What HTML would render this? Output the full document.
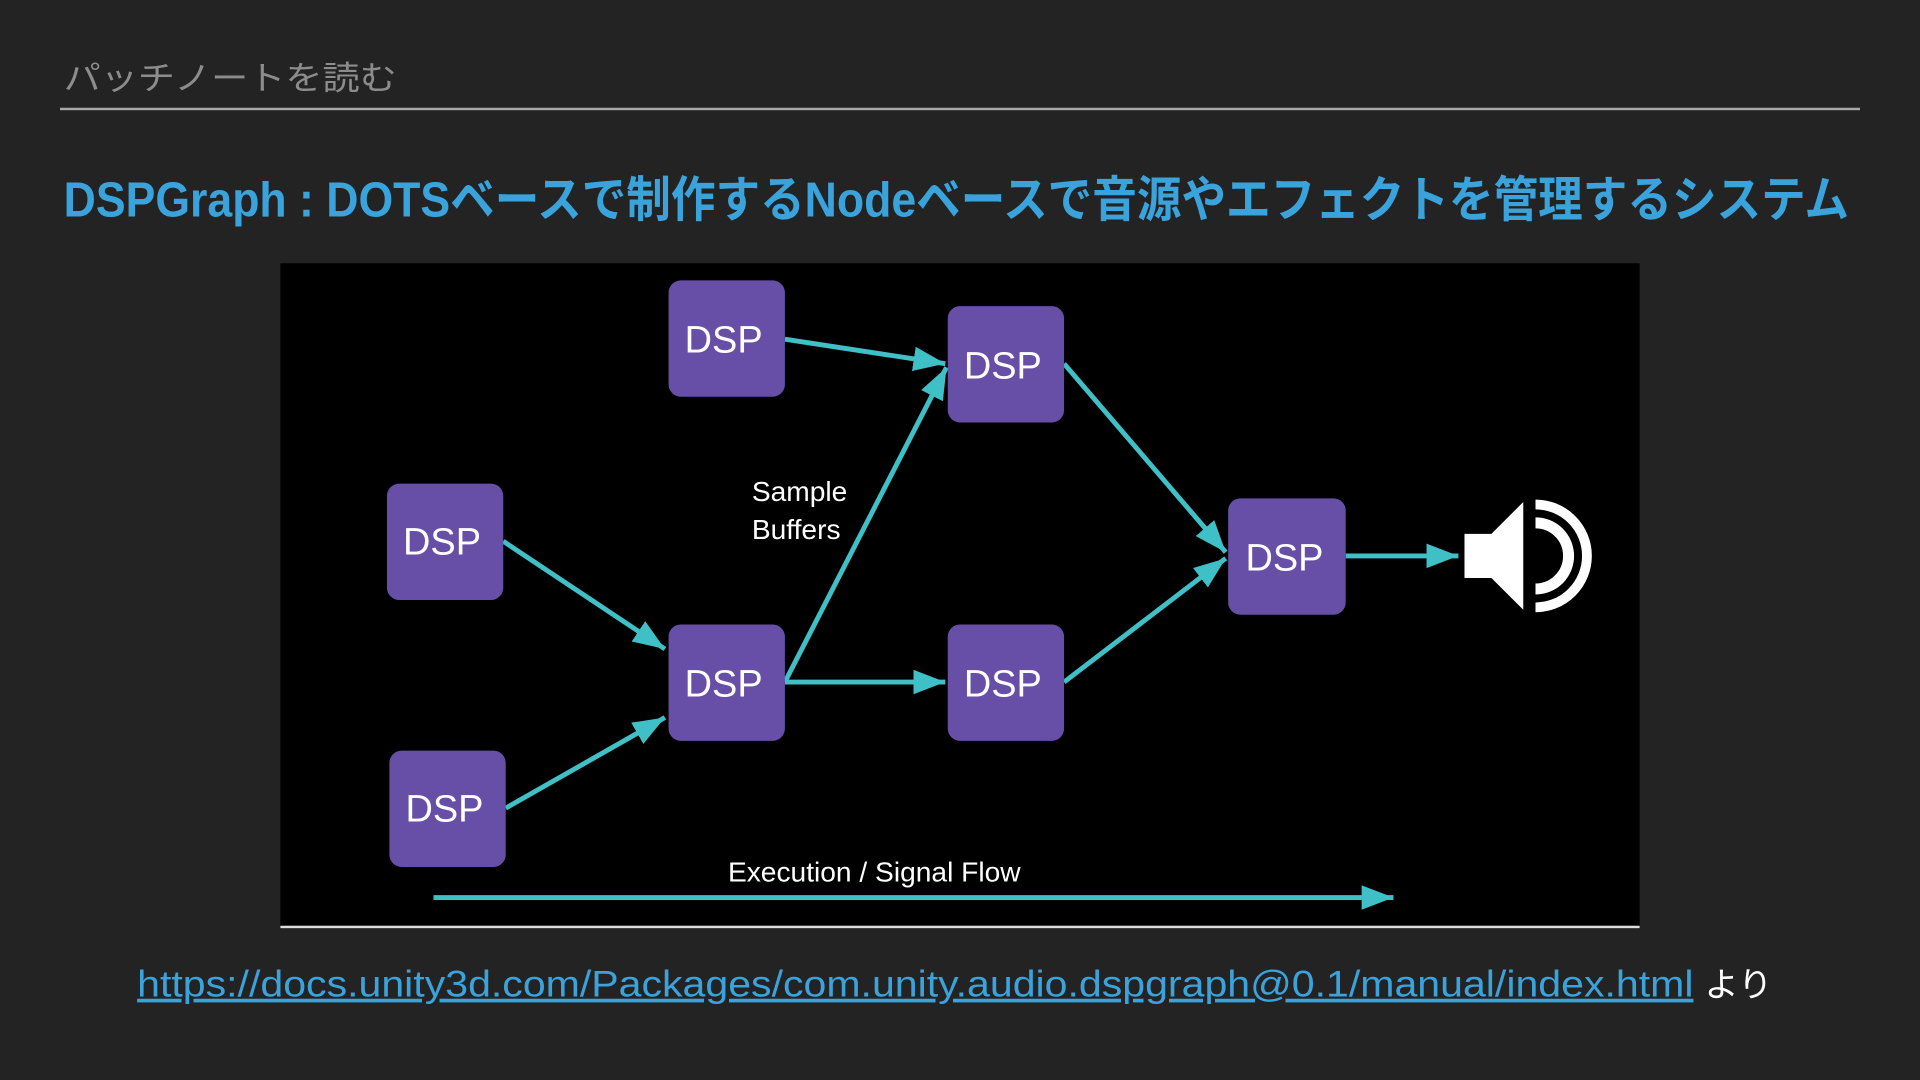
<!DOCTYPE html>
<html><head><meta charset="utf-8"><style>
html,body{margin:0;padding:0;background:#232323;width:1920px;height:1080px;overflow:hidden}
svg{display:block}
</style></head><body>
<svg width="1920" height="1080" viewBox="0 0 1568 882" xmlns="http://www.w3.org/2000/svg">
<defs>
<marker id="a" viewBox="0 0 10 10" refX="10" refY="5" markerWidth="26" markerHeight="20" orient="auto" markerUnits="userSpaceOnUse" preserveAspectRatio="none"><path d="M0,0 L10,5 L0,10 z" fill="#3fbfc6"/></marker>
</defs>
<rect width="1568" height="882" fill="#232323"/>
<text x="52" y="73" font-family="Liberation Sans, Noto Sans CJK JP, sans-serif" font-size="27" fill="#8c8c8c" textLength="272" lengthAdjust="spacingAndGlyphs">パッチノートを読む</text>
<rect x="49" y="88" width="1470" height="2" fill="#a8a8a8"/>
<text x="52" y="177" font-family="Liberation Sans Narrow, Liberation Sans, Noto Sans CJK JP, sans-serif" font-weight="bold" font-size="40" fill="#3aa3dc" textLength="1458" lengthAdjust="spacingAndGlyphs">DSPGraph : DOTSベースで制作するNodeベースで音源やエフェクトを管理するシステム</text>
<rect x="229" y="215" width="1110" height="542" fill="#000"/>
<rect x="229" y="756" width="1110" height="2" fill="#ddd"/>
<g stroke="#3fbfc6" stroke-width="4" fill="none" marker-end="url(#a)">
<line x1="641" y1="277" x2="772" y2="297"/>
<line x1="641" y1="557" x2="773" y2="300"/>
<line x1="411" y1="442" x2="543" y2="530"/>
<line x1="413" y1="660" x2="543" y2="586"/>
<line x1="641" y1="557" x2="772" y2="557"/>
<line x1="869" y1="297" x2="1001" y2="451"/>
<line x1="869" y1="557" x2="1001" y2="456"/>
<line x1="1099" y1="454" x2="1191" y2="454"/>
<line x1="354" y1="733" x2="1138" y2="733"/>
</g>
<g fill="#674ea7">
<rect x="546" y="229" width="95" height="95" rx="10"/>
<rect x="774" y="250" width="95" height="95" rx="10"/>
<rect x="316" y="395" width="95" height="95" rx="10"/>
<rect x="546" y="510" width="95" height="95" rx="10"/>
<rect x="774" y="510" width="95" height="95" rx="10"/>
<rect x="318" y="613" width="95" height="95" rx="10"/>
<rect x="1003" y="407" width="96" height="95" rx="10"/>
</g>
<g font-family="Liberation Sans, sans-serif" font-size="31" fill="#fff" text-anchor="middle">
<text x="591" y="288">DSP</text>
<text x="819" y="309">DSP</text>
<text x="361" y="453">DSP</text>
<text x="591" y="569">DSP</text>
<text x="819" y="569">DSP</text>
<text x="363" y="671">DSP</text>
<text x="1049" y="466">DSP</text>
</g>
<g font-family="Liberation Sans, sans-serif" font-size="23" fill="#fff">
<text x="614" y="409">Sample</text>
<text x="614" y="440">Buffers</text>
<text x="714" y="720" text-anchor="middle">Execution / Signal Flow</text>
</g>
<path d="M1196,436 L1218,436 L1244,410 L1244,498 L1218,472 L1196,472 z" fill="#fff"/>
<path d="M1254,427 A27,27 0 0 1 1254,481" stroke="#fff" stroke-width="9" fill="none"/>
<path d="M1254,412 A42,42 0 0 1 1254,496" stroke="#fff" stroke-width="8" fill="none"/>
<text x="112" y="814" font-family="Liberation Sans, sans-serif" font-size="30" fill="#3aa3dc" text-decoration="underline" textLength="1271" lengthAdjust="spacingAndGlyphs">https://docs.unity3d.com/Packages/com.unity.audio.dspgraph@0.1/manual/index.html</text>
<text x="1392" y="814" font-family="Liberation Sans, Noto Sans CJK JP, sans-serif" font-size="28" fill="#fff">より</text>
</svg>
</body></html>
